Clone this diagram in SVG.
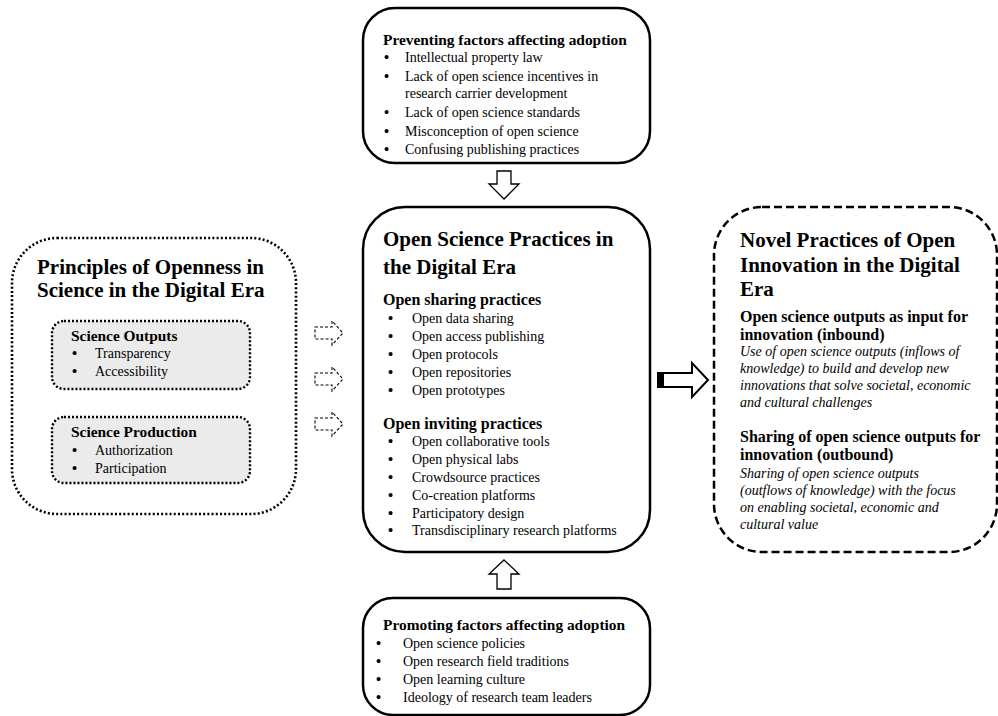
<svg xmlns="http://www.w3.org/2000/svg" width="998" height="716" viewBox="0 0 998 716">
<style>
text{font-family:"Liberation Serif","Times New Roman",serif;fill:#000}
.t{font-size:21px;font-weight:bold}
.h{font-size:16px;font-weight:bold}
.hs{font-size:15.4px;font-weight:bold}
.b{font-size:14px}
.u{font-size:14.5px;font-weight:bold}
.i{font-size:14px;font-style:italic}
.solid{fill:#fff;stroke:#000;stroke-width:2.5}
.dot{fill:#fff;stroke:#000;stroke-width:2.6;stroke-dasharray:2 2.2}
.idot{fill:#ebebeb;stroke:#000;stroke-width:2.4;stroke-dasharray:2 2}
.dash{fill:#fff;stroke:#000;stroke-width:2.5;stroke-dasharray:8 4}
.harrow{fill:#fff;stroke:#000;stroke-width:1.3}
.darrow{fill:#fff;stroke:#000;stroke-width:1.1;stroke-dasharray:3 2}
</style>
<rect width="998" height="716" fill="#fff"/>

<g id="principles">
<rect class="dot" x="12" y="238" width="284" height="276" rx="45"/>
<text class="t" x="37" y="274">Principles of Openness in</text>
<text class="t" x="37" y="297">Science in the Digital Era</text>
<g id="science-outputs">
<rect class="idot" x="52" y="321" width="198" height="68" rx="12"/>
<text class="hs" x="71" y="341">Science Outputs</text>
<text class="u" x="72" y="358">•</text><text class="b" x="95" y="358">Transparency</text>
<text class="u" x="72" y="376">•</text><text class="b" x="95" y="376">Accessibility</text>
</g>
<g id="science-production">
<rect class="idot" x="52" y="417" width="198" height="66" rx="12"/>
<text class="hs" x="71" y="437">Science Production</text>
<text class="u" x="72" y="455">•</text><text class="b" x="95" y="455">Authorization</text>
<text class="u" x="72" y="473">•</text><text class="b" x="95" y="473">Participation</text>
</g>
</g>

<g id="preventing">
<rect class="solid" x="363" y="8" width="287" height="155" rx="32"/>
<text class="hs" x="383" y="45">Preventing factors affecting adoption</text>
<text class="u" x="384" y="62">•</text><text class="b" x="405" y="62">Intellectual property law</text>
<text class="u" x="384" y="81">•</text><text class="b" x="405" y="81">Lack of open science incentives in</text>
<text class="b" x="405" y="98">research carrier development</text>
<text class="u" x="384" y="117">•</text><text class="b" x="405" y="117">Lack of open science standards</text>
<text class="u" x="384" y="136">•</text><text class="b" x="405" y="136">Misconception of open science</text>
<text class="u" x="384" y="154">•</text><text class="b" x="405" y="154">Confusing publishing practices</text>
</g>

<g id="practices">
<rect class="solid" x="363" y="207" width="287" height="345" rx="42"/>
<text class="t" x="383" y="246">Open Science Practices in</text>
<text class="t" x="383" y="274">the Digital Era</text>
<text class="h" x="383" y="305">Open sharing practices</text>
<text class="u" x="388" y="323">•</text><text class="b" x="412" y="323">Open data sharing</text>
<text class="u" x="388" y="341">•</text><text class="b" x="412" y="341">Open access publishing</text>
<text class="u" x="388" y="359">•</text><text class="b" x="412" y="359">Open protocols</text>
<text class="u" x="388" y="377">•</text><text class="b" x="412" y="377">Open repositories</text>
<text class="u" x="388" y="395">•</text><text class="b" x="412" y="395">Open prototypes</text>
<text class="h" x="383" y="429">Open inviting practices</text>
<text class="u" x="388" y="446">•</text><text class="b" x="412" y="446">Open collaborative tools</text>
<text class="u" x="388" y="464">•</text><text class="b" x="412" y="464">Open physical labs</text>
<text class="u" x="388" y="482">•</text><text class="b" x="412" y="482">Crowdsource practices</text>
<text class="u" x="388" y="500">•</text><text class="b" x="412" y="500">Co-creation platforms</text>
<text class="u" x="388" y="518">•</text><text class="b" x="412" y="518">Participatory design</text>
<text class="u" x="388" y="535">•</text><text class="b" x="412" y="535">Transdisciplinary research platforms</text>
</g>

<g id="promoting">
<rect class="solid" x="363" y="598" width="287" height="117" rx="30"/>
<text class="hs" x="383" y="630">Promoting factors affecting adoption</text>
<text class="u" x="376" y="648">•</text><text class="b" x="403" y="648">Open science policies</text>
<text class="u" x="376" y="666">•</text><text class="b" x="403" y="666">Open research field traditions</text>
<text class="u" x="376" y="684">•</text><text class="b" x="403" y="684">Open learning culture</text>
<text class="u" x="376" y="702">•</text><text class="b" x="403" y="702">Ideology of research team leaders</text>
</g>

<g id="novel">
<rect class="dash" x="714" y="207" width="283" height="345" rx="48"/>
<text class="t" x="740" y="247">Novel Practices of Open</text>
<text class="t" x="740" y="272">Innovation in the Digital</text>
<text class="t" x="740" y="296">Era</text>
<text class="h" x="740" y="322">Open science outputs as input for</text>
<text class="h" x="740" y="340">innovation (inbound)</text>
<text class="i" x="740" y="356">Use of open science outputs (inflows of</text>
<text class="i" x="740" y="373">knowledge) to build and develop new</text>
<text class="i" x="740" y="390">innovations that solve societal, economic</text>
<text class="i" x="740" y="407">and cultural challenges</text>
<text class="h" x="740" y="442">Sharing of open science outputs for</text>
<text class="h" x="740" y="460">innovation (outbound)</text>
<text class="i" x="740" y="478">Sharing of open science outputs</text>
<text class="i" x="740" y="495">(outflows of knowledge) with the focus</text>
<text class="i" x="740" y="512">on enabling societal, economic and</text>
<text class="i" x="740" y="529">cultural value</text>
</g>

<g id="connectors">
<polygon class="harrow" points="497,171 511,171 511,184 519,184 504,199 489,184 497,184"/>
<polygon class="harrow" points="504,560 519,574 511,574 511,589 497,589 497,574 489,574"/>
<polygon points="658,373 692,373 692,363 708,380 692,397 692,387 658,387" fill="#fff" stroke="#000" stroke-width="2"/>
<rect x="658" y="373" width="6" height="14" fill="#000"/>
<polygon class="darrow" points="315,327 332,327 332,321 343,333 332,345 332,339 315,339"/>
<polygon class="darrow" points="315,373 332,373 332,367 343,379 332,391 332,385 315,385"/>
<polygon class="darrow" points="315,418 332,418 332,412 343,424 332,436 332,430 315,430"/>
</g>
</svg>
